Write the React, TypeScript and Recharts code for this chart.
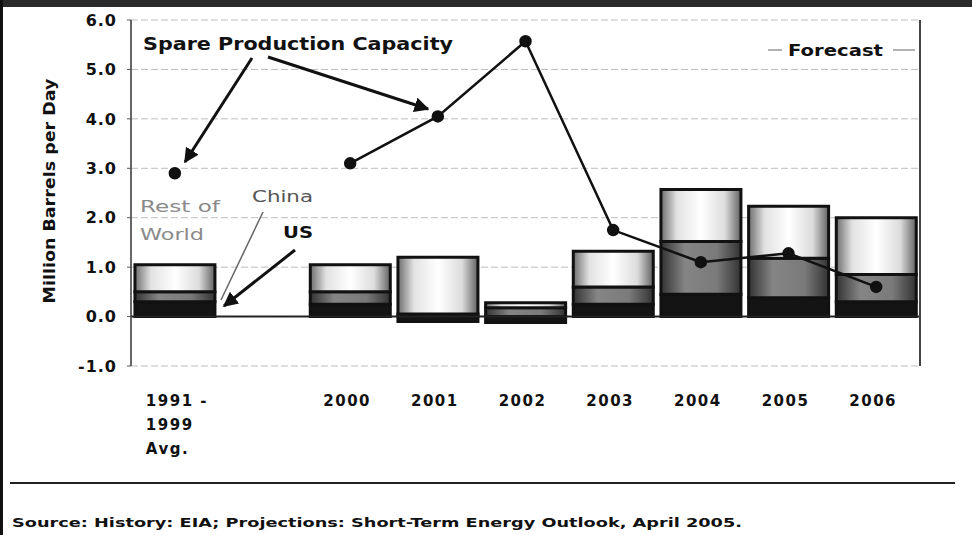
import { ComposedChart, Bar, Line, XAxis, YAxis, CartesianGrid, ReferenceLine } from 'recharts'

const categories = ['1991-1999 Avg.', '', '2000', '2001', '2002', '2003', '2004', '2005', '2006']
const usValues = [0.3, null, 0.25, -0.1, -0.12, 0.25, 0.45, 0.38, 0.3]
const chinaValues = [0.2, null, 0.25, 0.05, 0.18, 0.35, 1.07, 0.8, 0.55]
const restValues = [0.55, null, 0.55, 1.15, 0.1, 0.72, 1.05, 1.05, 1.15]
const spareValues = [2.9, null, 3.1, 4.05, 5.57, 1.75, 1.1, 1.28, 0.6]
const yTicks = [-1, 0, 1, 2, 3, 4, 5, 6]
const tickLines: Record<string, string[]> = { '1991-1999 Avg.': ['1991 -', '1999', 'Avg.'] }

const data = categories.map((name, i) => ({
    name,
    us: usValues[i],
    china: chinaValues[i],
    rest: restValues[i],
    spare: spareValues[i],
}))

const FONT = '"DejaVu Sans", Arial, sans-serif'

function CategoryTick({ x, y, payload }: any) {
    const lines = tickLines[payload.value]
    if (lines) {
        // the multi-line label is left-aligned in the original
        return (
            <g>
                {lines.map((l, i) => (
                    <text key={i} x={x - 29} y={y + 32 + i * 24} textAnchor="start" fontFamily={FONT} fontWeight="bold"
                        fontSize={15} letterSpacing={1.5} fill="#111">
                        {l}
                    </text>
                ))}
            </g>
        )
    }
    return (
        <text x={x - 3} y={y + 32} textAnchor="middle" fontFamily={FONT} fontWeight="bold" fontSize={15} letterSpacing={1.5} fill="#111">
            {payload.value}
        </text>
    )
}

export default function App() {
    return (
        <div style={{ position: 'absolute', top: 0, left: 0, width: 972, height: 535, background: '#fff', overflow: 'hidden' }}>
            <ComposedChart width={972} height={535} data={data} stackOffset="sign" barCategoryGap="4.5%"
                margin={{ top: 20, right: 52, bottom: 109, left: 0 }}>
                <defs>
                    <linearGradient id="restFill" x1="0" y1="0" x2="1" y2="0">
                        <stop offset="0" stopColor="#6e6e6e" />
                        <stop offset="0.2" stopColor="#e2e2e2" />
                        <stop offset="0.5" stopColor="#ffffff" />
                        <stop offset="0.8" stopColor="#dcdcdc" />
                        <stop offset="1" stopColor="#626262" />
                    </linearGradient>
                    <linearGradient id="chinaFill" x1="0" y1="0" x2="1" y2="0">
                        <stop offset="0" stopColor="#333" />
                        <stop offset="0.3" stopColor="#858585" />
                        <stop offset="0.7" stopColor="#7a7a7a" />
                        <stop offset="1" stopColor="#333" />
                    </linearGradient>
                </defs>
                <CartesianGrid vertical={false} stroke="#bdbdbd" strokeDasharray="7 3" />
                <XAxis dataKey="name" height={60} axisLine={false} tickLine={false} tick={<CategoryTick />} interval={0} />
                <YAxis width={131} domain={[-1, 6]} ticks={yTicks} tickFormatter={(v: number) => v.toFixed(1)}
                    axisLine={{ stroke: '#333', strokeWidth: 1.5 }} tickLine={{ stroke: '#555' }} tickSize={4} tickMargin={10}
                    tick={{ fontFamily: FONT, fontWeight: 'bold', fontSize: 16, fill: '#111', letterSpacing: 1 }} interval={0} />
                <ReferenceLine y={0} stroke="#222" strokeWidth={2} />
                <Bar dataKey="us" stackId="a" fill="#141414" stroke="#111" strokeWidth={3} isAnimationActive={false} />
                <Bar dataKey="china" stackId="a" fill="url(#chinaFill)" stroke="#111" strokeWidth={3} isAnimationActive={false} />
                <Bar dataKey="rest" stackId="a" fill="url(#restFill)" stroke="#111" strokeWidth={3} isAnimationActive={false} />
                <Line dataKey="spare" stroke="#111" strokeWidth={2.5} dot={{ r: 5, fill: '#111', stroke: '#111' }}
                    connectNulls={false} isAnimationActive={false} />
            </ComposedChart>

            <svg width={972} height={535} style={{ position: 'absolute', top: 0, left: 0, pointerEvents: 'none' }}>
                <defs>
                    <marker id="arrow" viewBox="0 0 10 10" refX="9" refY="5" markerWidth="5" markerHeight="5" orient="auto">
                        <path d="M0,0 L10,5 L0,10 z" fill="#111" />
                    </marker>
                </defs>
                <rect x={0} y={0} width={972} height={7} fill="#2a2a2a" />
                <rect x={0} y={0} width={3} height={535} fill="#111" />
                <line x1={920} y1={20} x2={920} y2={366} stroke="#444" strokeWidth={2} />

                <text transform="translate(55,191) rotate(-90)" textAnchor="middle" textLength={225} lengthAdjust="spacingAndGlyphs"
                    fontFamily={FONT} fontWeight="bold" fontSize={16} fill="#111">
                    Million Barrels per Day
                </text>

                <text x={143} y={50} textLength={310} lengthAdjust="spacingAndGlyphs" fontFamily={FONT} fontWeight="bold" fontSize={17} fill="#111">
                    Spare Production Capacity
                </text>
                <line x1={252} y1={58} x2={185} y2={162} stroke="#111" strokeWidth={3} markerEnd="url(#arrow)" />
                <line x1={268} y1={57} x2={428} y2={109} stroke="#111" strokeWidth={3} markerEnd="url(#arrow)" />

                <line x1={768} y1={50} x2={782} y2={50} stroke="#999" strokeWidth={1.5} />
                <text x={788} y={56} textLength={95} lengthAdjust="spacingAndGlyphs" fontFamily={FONT} fontWeight="bold" fontSize={15} fill="#111">
                    Forecast
                </text>
                <line x1={893} y1={50} x2={915} y2={50} stroke="#999" strokeWidth={1.5} />

                <text x={140} y={212} textLength={80} lengthAdjust="spacingAndGlyphs" fontFamily={FONT} fontSize={15} fill="#8a8a8a">Rest of</text>
                <text x={140} y={240} textLength={64} lengthAdjust="spacingAndGlyphs" fontFamily={FONT} fontSize={15} fill="#8a8a8a">World</text>
                <text x={252} y={202} textLength={61} lengthAdjust="spacingAndGlyphs" fontFamily={FONT} fontSize={15} fill="#555">China</text>
                <text x={283} y={238} textLength={30} lengthAdjust="spacingAndGlyphs" fontFamily={FONT} fontWeight="bold" fontSize={15} fill="#111">US</text>
                <line x1={263} y1={212} x2={221} y2={300} stroke="#666" strokeWidth={1.5} />
                <line x1={295} y1={250} x2={224} y2={306} stroke="#111" strokeWidth={3} markerEnd="url(#arrow)" />

                <line x1={10} y1={483} x2={955} y2={483} stroke="#222" strokeWidth={2} />
                <text x={12} y={527} textLength={730} lengthAdjust="spacingAndGlyphs" fontFamily={FONT} fontWeight="bold" fontSize={13} fill="#111">
                    Source: History: EIA; Projections: Short-Term Energy Outlook, April 2005.
                </text>
            </svg>
        </div>
    )
}
